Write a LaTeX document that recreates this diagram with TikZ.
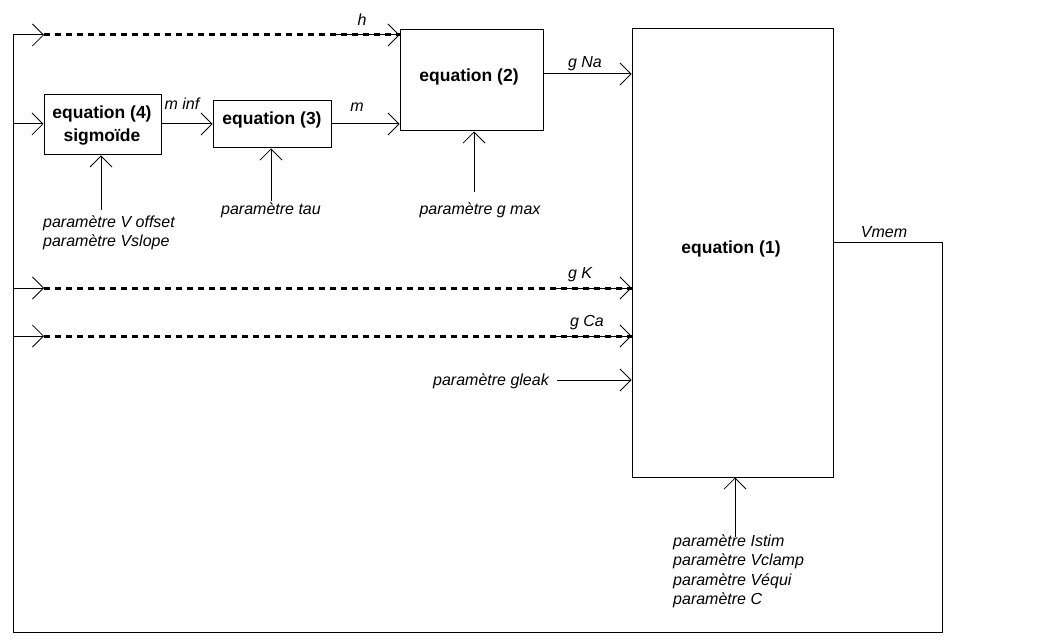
\documentclass[tikz,border=0pt]{standalone}
\usepackage{fontspec}
\setmainfont{Liberation Sans}
\usetikzlibrary{arrows.meta}
\begin{document}
\begin{tikzpicture}[x=1pt,y=-1pt,
  box/.style={draw, line width=1pt, inner sep=0pt},
  ln/.style={line width=1pt},
  arr/.style={ln, -{Straight Barb[length=11pt,width=22pt,line width=0.8pt]}},
  dsh/.style={line width=3pt, dash pattern=on 6pt off 5pt},
  lab/.style={font=\fontsize{16}{19.5}\selectfont\itshape, inner sep=0pt, align=left},
  eqt/.style={font=\fontsize{17.5}{23}\selectfont\bfseries, inner sep=0pt, align=center}]
\useasboundingbox (0,0) rectangle (1046,644);
% boxes
\node[box, minimum width=201pt, minimum height=448pt] (eq1) at (732.5,253) {};
\node[box, minimum width=143pt, minimum height=101pt] (eq2) at (471.5,80.5) {};
\node[box, minimum width=117pt, minimum height=60pt] (eq4) at (102.5,125) {};
\node[box, minimum width=118pt, minimum height=47pt] (eq3) at (272,124.5) {};
\node[eqt] (t1) at (731,249) {equation (1)};
\node[eqt] (t2) at (469,77) {equation (2)};
\node[eqt] (t3) at (272,120) {equation (3)};
\node[eqt] (t4) at (102,125.5) {equation (4)\\sigmoïde};
% left bus and feedback
\coordinate (bh) at (13,35);
\coordinate (bm) at (13,124);
\coordinate (bk) at (13,288);
\coordinate (bc) at (13,336);
\coordinate (bb) at (13,632);
\coordinate (rb) at (942,632);
\coordinate (rv) at (942,243);
\draw[ln] (eq1.east |- rv) -- (rv) -- (rb) -- (bb) -- (bh);
\node[lab] (vmem) at (884,232) {Vmem};
% h row
\coordinate (h0) at (44,35);
\coordinate (h1) at (330,35);
\draw[arr] (bh) -- (h0);
\draw[dsh] (h0) -- (h0 -| eq2.west);
\draw[arr] (h1) -- (h1 -| eq2.west);
\node[lab] (hl) at (362,20) {h};
% m row
\draw[arr] (bm) -- (bm -| eq4.west);
\draw[arr] (bm -| eq4.east) -- (bm -| eq3.west);
\node[lab] (minf) at (182,104) {m inf};
\draw[arr] (bm -| eq3.east) -- (bm -| eq2.west);
\node[lab] (ml) at (357,107) {m};
% gNa
\coordinate (na) at (543,74);
\draw[arr] (na) -- (na -| eq1.west);
\node[lab] (gna) at (585,64) {g Na};
% gK row
\coordinate (k0) at (44,288);
\coordinate (k1) at (555,288);
\draw[arr] (bk) -- (k0);
\draw[dsh] (k0) -- (k0 -| eq1.west);
\draw[arr] (k1) -- (k1 -| eq1.west);
\node[lab] (gk) at (580,275) {g K};
% gCa row
\coordinate (c0) at (44,336);
\coordinate (c1) at (553,336);
\draw[arr] (bc) -- (c0);
\draw[dsh] (c0) -- (c0 -| eq1.west);
\draw[arr] (c1) -- (c1 -| eq1.west);
\node[lab] (gca) at (587,323) {g Ca};
% gleak
\node[lab, anchor=east] (gl) at (549,381) {paramètre gleak};
\coordinate (l1) at (557,380);
\draw[arr] (l1) -- (l1 -| eq1.west);
% parameters under boxes
\node[lab, anchor=west] (p4) at (43,233) {paramètre V offset\\paramètre Vslope};
\coordinate (s4) at (101,210);
\draw[arr] (s4) -- (s4 |- eq4.south);
\node[lab] (p3) at (271,210) {paramètre tau};
\coordinate (s3) at (271,201);
\draw[arr] (s3) -- (s3 |- eq3.south);
\node[lab] (p2) at (480,210) {paramètre g max};
\coordinate (s2) at (474,192);
\draw[arr] (s2) -- (s2 |- eq2.south);
\node[lab, anchor=west] (p1) at (673,571.5) {paramètre Istim\\paramètre Vclamp\\paramètre Véqui\\paramètre C};
\coordinate (s1) at (735,537);
\draw[arr] (s1) -- (s1 |- eq1.south);
\end{tikzpicture}
\end{document}
